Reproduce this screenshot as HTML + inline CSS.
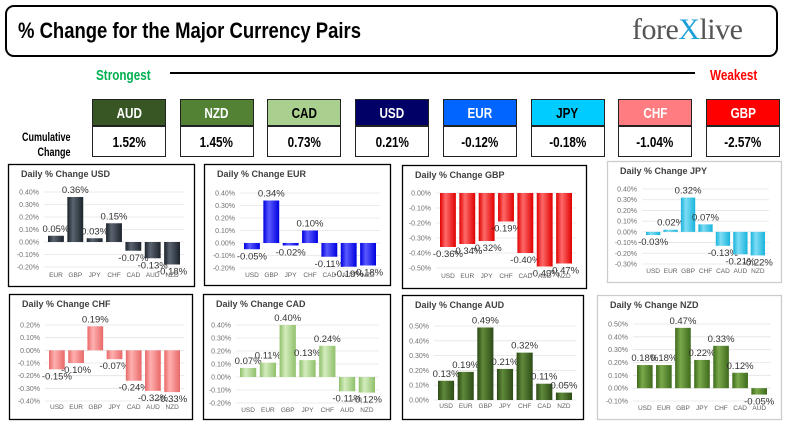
<!DOCTYPE html>
<html><head><meta charset="utf-8"><style>
body{margin:0;width:789px;height:431px;background:#fff;position:relative;overflow:hidden;font-family:"Liberation Sans",sans-serif}
.abs{position:absolute}
.cond{font-weight:bold;transform-origin:0 0;white-space:nowrap}
.hdr{position:absolute;width:74px;height:27px;border:1px solid #222;box-sizing:border-box;text-align:center;font:bold 15px "Liberation Sans",sans-serif;line-height:27px}
.val{position:absolute;width:74px;height:31px;border:1px solid #222;box-sizing:border-box;text-align:center;font:bold 15px "Liberation Sans",sans-serif;line-height:31px;color:#000}
.hdr span,.val span{display:inline-block;transform:scaleX(0.78)}
</style></head><body>
<div class="abs" style="left:5px;top:5px;width:773px;height:52px;border:2px solid #000;border-radius:9px;box-sizing:border-box"></div>
<div class="abs cond" style="left:18px;top:18px;font-size:22px;transform:scaleX(0.84)">% Change for the Major Currency Pairs</div>
<div class="abs" style="left:632px;top:13px;font:30px 'Liberation Serif',serif;color:#555;letter-spacing:-0.5px">fore<span style="color:#1a9fd8">X</span>live</div>
<div class="abs cond" style="left:96px;top:67px;font-size:15px;color:#00b050;transform:scaleX(0.78)">Strongest</div>
<div class="abs" style="left:170px;top:72px;width:525px;height:2px;background:#000"></div>
<div class="abs cond" style="left:710px;top:67px;font-size:15px;color:#ff0000;transform:scaleX(0.78)">Weakest</div>
<div class="abs cond" style="left:22px;top:130px;font-size:12px;line-height:15px;text-align:right;transform:scaleX(0.75)">Cumulative<br>&nbsp;&nbsp;&nbsp;&nbsp;&nbsp;&nbsp;Change</div>
<div id="boxes"></div>
<svg id="charts" class="abs" style="left:0;top:0" width="789" height="431"></svg>
<script>
const curNames=["AUD","NZD","CAD","USD","EUR","JPY","CHF","GBP"];
const curValues=["1.52%","1.45%","0.73%","0.21%","-0.12%","-0.18%","-1.04%","-2.57%"];
const curColors=["#375623","#548235","#a9d08e","#000066","#0066ff","#00ccff","#ff7c80","#ff0000"];
const curText=["#fff","#fff","#000","#fff","#fff","#000","#fff","#fff"];
const boxes=document.getElementById('boxes');
curNames.forEach((n,i)=>{
  const x=92+i*87.7;
  const h=document.createElement('div');h.className='hdr';
  
  
  h.style.left=x+'px';h.style.top='99px';h.style.background=curColors[i];h.style.color=curText[i];
  h.innerHTML='<span>'+n+'</span>';boxes.appendChild(h);
  const v=document.createElement('div');v.className='val';
  
  
  v.style.left=x+'px';v.style.top='126px';
  v.innerHTML='<span>'+curValues[i]+'</span>';boxes.appendChild(v);
});

const usdCats=["EUR","GBP","JPY","CHF","CAD","AUD","NZD"];
const usdVals=[0.05,0.36,0.03,0.15,-0.07,-0.13,-0.18];
const eurCats=["USD","GBP","JPY","CHF","CAD","AUD","NZD"];
const eurVals=[-0.05,0.34,-0.02,0.10,-0.11,-0.19,-0.18];
const gbpCats=["USD","EUR","JPY","CHF","CAD","AUD","NZD"];
const gbpVals=[-0.36,-0.34,-0.32,-0.19,-0.40,-0.49,-0.47];
const jpyCats=["USD","EUR","GBP","CHF","CAD","AUD","NZD"];
const jpyVals=[-0.03,0.02,0.32,0.07,-0.13,-0.21,-0.22];
const chfCats=["USD","EUR","GBP","JPY","CAD","AUD","NZD"];
const chfVals=[-0.15,-0.10,0.19,-0.07,-0.24,-0.32,-0.33];
const cadCats=["USD","EUR","GBP","JPY","CHF","AUD","NZD"];
const cadVals=[0.07,0.11,0.40,0.13,0.24,-0.11,-0.12];
const audCats=["USD","EUR","GBP","JPY","CHF","CAD","NZD"];
const audVals=[0.13,0.19,0.49,0.21,0.32,0.11,0.05];
const nzdCats=["USD","EUR","GBP","JPY","CHF","CAD","AUD"];
const nzdVals=[0.18,0.18,0.47,0.22,0.33,0.12,-0.05];
const usdTicks=[0.4,0.3,0.2,0.1,0,-0.1,-0.2];
const eurTicks=[0.4,0.3,0.2,0.1,0,-0.1,-0.2];
const gbpTicks=[0,-0.1,-0.2,-0.3,-0.4,-0.5];
const jpyTicks=[0.4,0.3,0.2,0.1,0,-0.1,-0.2,-0.3];
const chfTicks=[0.2,0.1,0,-0.1,-0.2,-0.3,-0.4];
const cadTicks=[0.4,0.3,0.2,0.1,0,-0.1,-0.2];
const audTicks=[0.5,0.4,0.3,0.2,0.1,0];
const nzdTicks=[0.5,0.4,0.3,0.2,0.1,0,-0.1];

const panels=[
 {n:'usd',cats:usdCats,vals:usdVals,ticks:usdTicks,box:[8,164,195,287],border:'#000',hi:0.4,lo:-0.2,yhi:192,ylo:267,x0:48,x1:180,cy:277,c1:'#5a6470',c2:'#1c232c'},
 {n:'eur',cats:eurCats,vals:eurVals,ticks:eurTicks,box:[204,164,391,286],border:'#000',hi:0.4,lo:-0.2,yhi:193,ylo:268,x0:244,x1:376,cy:277,c1:'#5a5aff',c2:'#0000e0'},
 {n:'gbp',cats:gbpCats,vals:gbpVals,ticks:gbpTicks,box:[402,165,587,289],border:'#000',hi:0,lo:-0.5,yhi:193,ylo:268,x0:440,x1:572,cy:278,c1:'#ff6a6a',c2:'#e00000'},
 {n:'jpy',cats:jpyCats,vals:jpyVals,ticks:jpyTicks,box:[607,161,782,283],border:'#ccc',hi:0.4,lo:-0.3,yhi:189,ylo:264,x0:646,x1:765,cy:273,c1:'#7fdcf5',c2:'#18b4dc'},
 {n:'chf',cats:chfCats,vals:chfVals,ticks:chfTicks,box:[9,294,193,420],border:'#000',hi:0.2,lo:-0.4,yhi:325,ylo:401,x0:49,x1:180,cy:409,c1:'#ffb0b0',c2:'#e86868'},
 {n:'cad',cats:cadCats,vals:cadVals,ticks:cadTicks,box:[203,294,391,420],border:'#000',hi:0.4,lo:-0.2,yhi:325,ylo:403,x0:240,x1:375,cy:412,c1:'#d4ecbe',c2:'#8fc06a'},
 {n:'aud',cats:audCats,vals:audVals,ticks:audTicks,box:[402,295,584,420],border:'#000',hi:0.5,lo:0,yhi:326,ylo:400,x0:438,x1:572,cy:408,c1:'#5f8a3a',c2:'#2c4a16'},
 {n:'nzd',cats:nzdCats,vals:nzdVals,ticks:nzdTicks,box:[597,295,782,420],border:'#ccc',hi:0.5,lo:-0.1,yhi:324,ylo:401,x0:637,x1:767,cy:410,c1:'#7aa84a',c2:'#3e6a1c'}
];
const svg=document.getElementById('charts');
const NS='http://www.w3.org/2000/svg';
function mk(tag,attrs,parent){const e=document.createElementNS(NS,tag);for(const k in attrs)e.setAttribute(k,attrs[k]);parent.appendChild(e);return e;}
const defs=mk('defs',{},svg);
panels.forEach(p=>{
  const g=mk('g',{},svg);
  
  
  const gr=mk('linearGradient',{id:'g'+p.n,x1:0,x2:1,y1:0,y2:0},defs);
  mk('stop',{offset:'0','stop-color':p.c2},gr);mk('stop',{offset:'0.35','stop-color':p.c1},gr);mk('stop',{offset:'1','stop-color':p.c2},gr);
  const [bl,bt,br,bb]=p.box;
  const frame=mk('rect',{x:bl+0.5,y:bt+0.5,width:br-bl-1,height:bb-bt-1,fill:'#fff',stroke:p.border,'stroke-width':1.3},g);
  
  
  const t=mk('text',{x:bl+13,y:bt+13,'font-size':9,fill:'#404040','font-weight':'bold','font-family':'Liberation Sans,sans-serif'},g);
  t.textContent='Daily % Change '+p.n.toUpperCase();
  
  
  const ys=v=>p.yhi+(p.hi-v)/(p.hi-p.lo)*(p.ylo-p.yhi);
  p.ticks.forEach(v=>{
    const y=ys(v);
    const gl=mk('line',{x1:p.x0-4,x2:p.x1+4,y1:y,y2:y,stroke:'#e4e4e4','stroke-width':0.8},g);
    
    
    const tl=mk('text',{x:p.x0-9,y:y+2.5,'font-size':7,fill:'#707070','text-anchor':'end','font-family':'Liberation Sans,sans-serif'},g);
    tl.textContent=v.toFixed(2)+'%';
    
    
  });
  const slot=(p.x1-p.x0)/(p.vals.length-0.18);
  const bw=slot*0.82;
  p.vals.forEach((v,i)=>{
    const x=p.x0+i*slot;
    const y0=ys(0),y1=ys(v);
    const r=mk('rect',{x:x,y:Math.min(y0,y1),width:bw,height:Math.max(1,Math.abs(y1-y0)),fill:'url(#g'+p.n+')'},g);
    
    
    const ly=v>=0?y1-4:y1+10;
    const lb=mk('text',{x:x+bw/2,y:ly,'font-size':9.5,fill:'#333','text-anchor':'middle','font-family':'Liberation Sans,sans-serif'},g);
    lb.textContent=v.toFixed(2)+'%';
    
    
    const cl=mk('text',{x:x+bw/2,y:p.cy,'font-size':6.5,fill:'#606060','text-anchor':'middle','font-family':'Liberation Sans,sans-serif'},g);
    cl.textContent=p.cats[i];
    
    
  });
});
</script>
</body></html>
